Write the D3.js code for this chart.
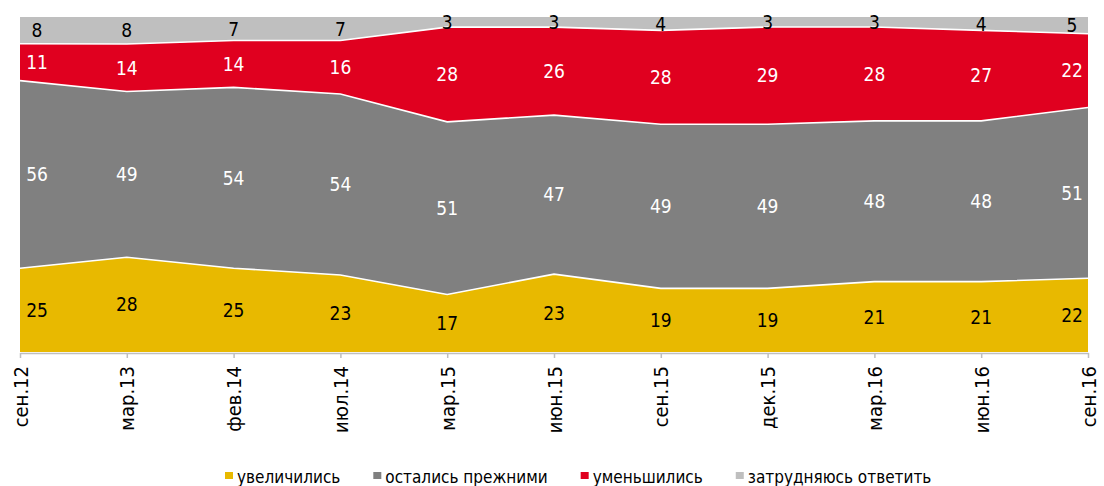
<!DOCTYPE html>
<html>
<head>
<meta charset="utf-8">
<script src="https://cdn.jsdelivr.net/npm/d3@7"></script>
<style>
  body { margin: 0; background: #fff; }
  svg { font-family: "Liberation Sans Narrow", "DejaVu Sans Condensed", sans-serif; }
</style>
</head>
<body>
<svg width="1104" height="486"></svg>
<script>
// periods on the x axis
var periods = ["сен.12", "мар.13", "фев.14", "июл.14", "мар.15", "июн.15", "сен.15", "дек.15", "мар.16", "июн.16", "сен.16"];

// series, bottom to top
var increased = [25, 28, 25, 23, 17, 23, 19, 19, 21, 21, 22];
var same      = [56, 49, 54, 54, 51, 47, 49, 49, 48, 48, 51];
var decreased = [11, 14, 14, 16, 28, 26, 28, 29, 28, 27, 22];
var dontKnow  = [8, 8, 7, 7, 3, 3, 4, 3, 3, 4, 5];

var seriesNames = ["увеличились", "остались прежними", "уменьшились", "затрудняюсь ответить"];
var seriesKeys = ["inc", "same", "dec", "dk"];
var colors = ["#e8b900", "#808080", "#e0001f", "#bfbfbf"];
var labelColors = ["#000", "#fff", "#fff", "#000"];

var rows = periods.map(function(p, i) {
    return { period: p, inc: increased[i], same: same[i], dec: decreased[i], dk: dontKnow[i] };
});

var svg = d3.select("svg");
var plotLeft = 20, plotRight = 1088, plotTop = 17, plotBottom = 352;

var x = d3.scalePoint().domain(periods).range([plotLeft, plotRight]);
var y = d3.scaleLinear().domain([0, 1]).range([plotBottom, plotTop]);

// sums are 99-100, the chart is normalised to 100%
var stack = d3.stack().keys(seriesKeys).offset(d3.stackOffsetExpand);
var layers = stack(rows);

var area = d3.area()
    .x(function(d) { return x(d.data.period); })
    .y0(function(d) { return y(d[0]); })
    .y1(function(d) { return y(d[1]); });

var line = d3.line()
    .x(function(d) { return x(d.data.period); })
    .y(function(d) { return y(d[1]); });

svg.append("g").selectAll("path")
    .data(layers)
    .enter()
    .append("path")
    .attr("d", area)
    .attr("fill", function(d, i) { return colors[i]; });

// white borders between layers
svg.append("g").selectAll("path")
    .data(layers.slice(0, 3))
    .enter()
    .append("path")
    .attr("d", line)
    .attr("fill", "none")
    .attr("stroke", "#fff")
    .attr("stroke-width", 1.6);

// x axis
var axis = d3.axisBottom(x).tickSize(5).tickSizeOuter(0).tickPadding(6);
var gx = svg.append("g").attr("transform", "translate(0," + (plotBottom + 1) + ")").call(axis);
gx.select(".domain").attr("stroke", "#bfbfbf").attr("stroke-width", 1.5);
gx.selectAll(".tick line").attr("stroke", "#bfbfbf").attr("stroke-width", 1.5);
gx.selectAll(".tick text")
    .attr("font-size", 20)
    .attr("font-family", "Liberation Sans Narrow, DejaVu Sans Condensed, sans-serif")
    .attr("fill", "#000")
    .attr("text-anchor", "end")
    .attr("transform", "rotate(-90)")
    .attr("x", -13)
    .attr("y", 0)
    .attr("dy", "0.35em");

// value labels
layers.forEach(function(layer, li) {
    svg.append("g").selectAll("text")
        .data(layer)
        .enter()
        .append("text")
        .attr("x", function(d) {
            var cx = x(d.data.period);
            return Math.max(plotLeft + 17, Math.min(plotRight - 16, cx));
        })
        .attr("y", function(d) { return y((d[0] + d[1]) / 2); })
        .attr("dy", "0.36em")
        .attr("text-anchor", "middle")
        .attr("font-size", 19)
        .attr("fill", labelColors[li])
        .text(function(d) { return d.data[layer.key]; });
});

// legend
var legend = svg.append("g").attr("transform", "translate(0,483)");
var lx = 225;
seriesNames.forEach(function(name, i) {
    var g = legend.append("g").attr("transform", "translate(" + lx + ",0)");
    g.append("rect").attr("x", 0).attr("y", -11).attr("width", 8).attr("height", 7).attr("fill", colors[i]);
    var t = g.append("text").attr("x", 12).attr("y", 0).attr("font-size", 17).attr("fill", "#000").text(name);
    lx += 12 + t.node().getComputedTextLength() + 33;
});
</script>
</body>
</html>
